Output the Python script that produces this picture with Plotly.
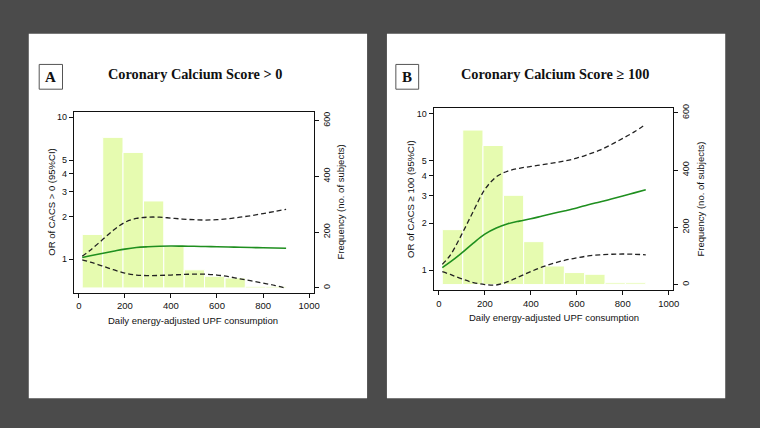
import plotly.graph_objects as go

# ---------------- data ----------------
bin_centers = [59, 148, 236, 325, 413, 502, 590, 679, 767, 856]
freq = [192, 540, 486, 312, 150, 65, 42, 36, 6, 6]

upf = [15, 50, 100, 150, 200, 250, 300, 350, 400, 450, 500, 550, 600, 650, 700, 750, 800, 850, 900]

or_a = [1.03, 1.06, 1.10, 1.14, 1.18, 1.21, 1.225, 1.235, 1.24, 1.238, 1.235, 1.23, 1.225, 1.22, 1.215, 1.21, 1.205, 1.20, 1.195]
up_a = [1.05, 1.16, 1.36, 1.60, 1.82, 1.94, 1.98, 1.98, 1.95, 1.92, 1.90, 1.89, 1.90, 1.93, 1.98, 2.03, 2.10, 2.17, 2.25]
lo_a = [0.99, 0.955, 0.90, 0.845, 0.80, 0.775, 0.768, 0.77, 0.775, 0.782, 0.786, 0.786, 0.775, 0.755, 0.728, 0.705, 0.68, 0.655, 0.625]

or_b = [1.04, 1.13, 1.29, 1.49, 1.70, 1.86, 1.98, 2.06, 2.13, 2.22, 2.31, 2.40, 2.50, 2.62, 2.73, 2.85, 2.98, 3.12, 3.27]
up_b = [1.09, 1.25, 1.70, 2.38, 3.28, 3.95, 4.30, 4.48, 4.60, 4.72, 4.85, 5.00, 5.20, 5.50, 5.85, 6.35, 6.95, 7.65, 8.55]
lo_b = [0.98, 0.94, 0.88, 0.835, 0.81, 0.805, 0.845, 0.91, 0.98, 1.05, 1.11, 1.16, 1.20, 1.235, 1.255, 1.265, 1.27, 1.265, 1.255]

x_ticks = [0, 200, 400, 600, 800, 1000]
or_ticks = [1, 2, 3, 4, 5, 10]
freq_ticks = [0, 200, 400, 600]

titles = ["Coronary Calcium Score > 0", "Coronary Calcium Score ≥ 100"]
panel_letters = ["A", "B"]
or_labels = ["OR of CACS > 0 (95%CI)", "OR of CACS ≥ 100 (95%CI)"]
freq_label = "Frequency (no. of subjects)"
x_label = "Daily energy-adjusted UPF consumption"

# ---------------- style ----------------
W, H = 760, 428
BG = "#4b4b4b"
BAR = "#e6fbb0"
GREEN = "#1f8f1f"
SANS = "Liberation Sans, Arial, sans-serif"
SERIF = "Liberation Serif, Times New Roman, serif"

def px(x):
    return x / W

def py(y):
    return 1 - y / H

fig = go.Figure()

panels = [
    dict(or_=or_a, up=up_a, lo=lo_a,
         xd=[px(74.3), px(316.7)], yd=[py(291.7), py(109)],
         xr=[-22, 1022], yr=[-0.237, 1.037], fr=[-18, 631],
         white=(29, 370), box=(39.5, 63), title_x=197,
         lt_x=52, rt_x=343, ty=200, xl=(195, 319)),
    dict(or_=or_b, up=up_b, lo=lo_b,
         xd=[px(437), px(678.7)], yd=[py(289), py(105)],
         xr=[-23, 1020], yr=[-0.128, 1.036], fr=[-20, 617],
         white=(390, 731), box=(399, 422), title_x=559,
         lt_x=413, rt_x=706, ty=197, xl=(558, 316)),
]

shapes = []
annotations = []
layout = {}

for i, p in enumerate(panels):
    xa = "x" if i == 0 else "x2"
    yf = "y" if i == 0 else "y3"      # frequency (base, right side)
    yo = "y2" if i == 0 else "y4"     # odds ratio (overlay, left side, log)

    fig.add_trace(go.Bar(x=bin_centers, y=freq, xaxis=xa, yaxis=yf,
                         marker=dict(color=BAR, line=dict(color="white", width=1)),
                         showlegend=False, hoverinfo="skip"))
    fig.add_trace(go.Scatter(x=upf, y=p["up"], xaxis=xa, yaxis=yo, mode="lines",
                             line=dict(color="#222222", width=1.3, dash="5px,3px", shape="spline"),
                             showlegend=False, hoverinfo="skip"))
    fig.add_trace(go.Scatter(x=upf, y=p["lo"], xaxis=xa, yaxis=yo, mode="lines",
                             line=dict(color="#222222", width=1.3, dash="5px,3px", shape="spline"),
                             showlegend=False, hoverinfo="skip"))
    fig.add_trace(go.Scatter(x=upf, y=p["or_"], xaxis=xa, yaxis=yo, mode="lines",
                             line=dict(color=GREEN, width=1.6, shape="spline"),
                             showlegend=False, hoverinfo="skip"))

    xkey = "xaxis" if i == 0 else "xaxis2"
    yfkey = "yaxis" if i == 0 else "yaxis3"
    yokey = "yaxis2" if i == 0 else "yaxis4"

    layout[xkey] = dict(domain=p["xd"], range=p["xr"], anchor=yf,
                        tickvals=x_ticks, ticks="outside", ticklen=4, tickcolor="#111",
                        showline=True, linecolor="#111", linewidth=1, mirror=True,
                        showgrid=False, zeroline=False,
                        tickfont=dict(family=SANS, size=9.5, color="#111"))
    layout[yfkey] = dict(domain=p["yd"], range=p["fr"], anchor=xa, side="right",
                         tickvals=freq_ticks, ticks="outside", ticklen=4, tickcolor="#111",
                         tickangle=-90, showline=True, linecolor="#111", linewidth=1,
                         showgrid=False, zeroline=False,
                         tickfont=dict(family=SANS, size=9, color="#111"))
    layout[yokey] = dict(type="log", range=p["yr"], overlaying=yf, anchor=xa, side="left",
                         tickvals=or_ticks, ticktext=[str(t) for t in or_ticks],
                         ticks="outside", ticklen=4, tickcolor="#111",
                         showline=True, linecolor="#111", linewidth=1,
                         showgrid=False, zeroline=False,
                         tickfont=dict(family=SANS, size=9, color="#111"))

    # white panel
    shapes.append(dict(type="rect", xref="paper", yref="paper",
                       x0=px(p["white"][0]), x1=px(p["white"][1]), y0=py(398), y1=py(30),
                       fillcolor="white", line=dict(width=0), layer="below"))
    # letter box
    shapes.append(dict(type="rect", xref="paper", yref="paper",
                       x0=px(p["box"][0]), x1=px(p["box"][1]), y0=py(86), y1=py(61),
                       fillcolor="white", line=dict(color="#555", width=1), layer="above"))
    annotations.append(dict(text="<b>%s</b>" % panel_letters[i], xref="paper", yref="paper",
                            x=px((p["box"][0] + p["box"][1]) / 2), y=py(74),
                            showarrow=False, xanchor="center", yanchor="middle",
                            font=dict(family=SERIF, size=15, color="#111")))
    annotations.append(dict(text="<b>%s</b>" % titles[i], xref="paper", yref="paper",
                            x=px(p["title_x"]), y=py(71), showarrow=False,
                            xanchor="center", yanchor="middle",
                            font=dict(family=SERIF, size=14.3, color="#111")))
    annotations.append(dict(text=or_labels[i], xref="paper", yref="paper",
                            x=px(p["lt_x"]), y=py(p["ty"]), showarrow=False, textangle=-90,
                            xanchor="center", yanchor="middle",
                            font=dict(family=SANS, size=9.5, color="#111")))
    annotations.append(dict(text=freq_label, xref="paper", yref="paper",
                            x=px(p["rt_x"]), y=py(p["ty"]), showarrow=False, textangle=-90,
                            xanchor="center", yanchor="middle",
                            font=dict(family=SANS, size=9.5, color="#111")))
    annotations.append(dict(text=x_label, xref="paper", yref="paper",
                            x=px(p["xl"][0]), y=py(p["xl"][1]), showarrow=False,
                            xanchor="center", yanchor="middle",
                            font=dict(family=SANS, size=9.5, color="#111")))

fig.update_layout(width=W, height=H, margin=dict(l=0, r=0, t=0, b=0),
                  paper_bgcolor=BG, plot_bgcolor="rgba(0,0,0,0)", hovermode=False,
                  bargap=0, shapes=shapes, annotations=annotations, **layout)

fig.write_html("out.html", config={"displayModeBar": False, "staticPlot": True},
               post_script="document.body.style.margin='0';document.body.style.overflow='hidden';document.body.style.background='%s';" % BG)
